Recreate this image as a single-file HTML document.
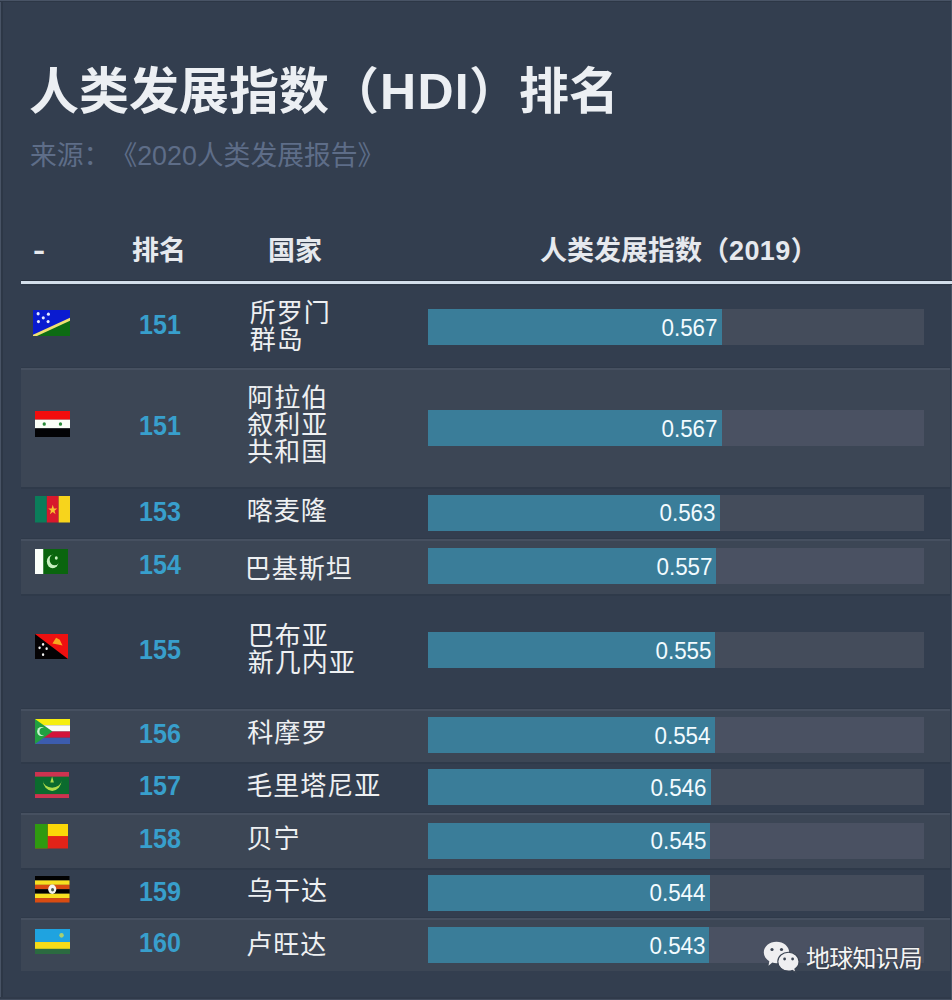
<!DOCTYPE html>
<html lang="zh-CN">
<head>
<meta charset="utf-8">
<title>人类发展指数（HDI）排名</title>
<style>
html,body{margin:0;padding:0;}
body{width:952px;height:1000px;overflow:hidden;background:#333e4f;position:relative;
  font-family:"Liberation Sans","Noto Sans CJK SC",sans-serif;}
.edge-l{position:absolute;left:0;top:0;width:1px;height:1000px;background:#485365;}
.edge-l2{position:absolute;left:1px;top:0;width:2px;height:1000px;background:#2d3746;}
.edge-t{position:absolute;left:0;top:0;width:952px;height:1px;background:#485365;}
.edge-t2{position:absolute;left:0;top:1px;width:952px;height:1px;background:#2d3746;}
.edge-b{position:absolute;left:0;top:999px;width:952px;height:1px;background:#434d5e;}
.edge-b2{position:absolute;left:0;top:997px;width:952px;height:2px;background:#303a4a;}
.edge-r{position:absolute;right:0;top:0;width:1px;height:1000px;background:#485365;}
h1{position:absolute;left:29px;top:56px;margin:0;font-weight:bold;font-size:50px;line-height:72px;
  color:#eceff3;white-space:nowrap;font-family:"Liberation Sans","Noto Sans CJK SC",sans-serif;}
.sub{position:absolute;left:30px;top:138px;font-size:26.8px;line-height:37px;color:#5e6d88;white-space:nowrap;
  font-family:"Liberation Sans","Noto Sans CJK SC",sans-serif;text-spacing-trim:space-all;}
.hd{position:absolute;top:233px;font-weight:bold;font-size:27px;line-height:37px;color:#e6e9ee;white-space:nowrap;
  font-family:"Liberation Sans","Noto Sans CJK SC",sans-serif;text-spacing-trim:space-all;}
.hline{position:absolute;left:21px;top:281px;width:931px;height:3px;background:#d3deea;box-shadow:0 -1px 0 #29323f, 0 1px 0 #29323f;}
.row{position:absolute;left:21px;width:929px;}
.row{box-shadow:inset 0 2px 0 #2f3a4a, inset 0 -1px 0 #2f3a4a;}
.row.lt{background:#3c4655;box-shadow:inset 0 2px 0 #465060;}
.flag{position:absolute;left:13px;width:36px;height:26px;}
.rank{position:absolute;left:118px;width:44px;font-weight:bold;font-size:27px;line-height:30px;color:#389fcc;
  font-family:"Liberation Sans",sans-serif;transform:scaleX(0.93);transform-origin:0 0;}
.name{position:absolute;left:229px;font-size:26px;letter-spacing:1px;line-height:27.2px;color:#eef0f2;
  font-family:"Liberation Sans","Noto Sans CJK SC",sans-serif;}
.track{position:absolute;left:406.5px;width:496px;height:36px;background:#444c5b;}
.row.lt .track{background:#4a5162;}
.fill{position:absolute;left:0;top:0;height:36px;background:#3a7d99;}
.val{position:absolute;right:4px;top:0.5px;font-size:23px;transform:scaleX(0.975);transform-origin:100% 50%;line-height:36px;color:#f2fbff;
  font-family:"Liberation Sans",sans-serif;}
.wm{position:absolute;left:763px;top:938px;height:36px;}
.wm span{position:absolute;left:43px;top:2.5px;font-size:24px;letter-spacing:-0.8px;line-height:36px;color:#f4f4f4;white-space:nowrap;
  text-shadow:0 0 2px rgba(0,0,0,.35);font-family:"Liberation Sans","Noto Sans CJK SC",sans-serif;}
</style>
</head>
<body>
<div class="edge-l"></div><div class="edge-l2"></div><div class="edge-t"></div><div class="edge-t2"></div><div class="edge-b2"></div><div class="edge-b"></div><div class="edge-r"></div>

<h1>人类发展指数（<span style="letter-spacing:1.3px;margin-left:1px">HDI</span><span style="margin-left:-1px">）</span>排名</h1>
<div class="sub">来源：《2020人类发展报告》</div>

<div class="hd" style="left:33px;top:232.5px;transform:scaleX(1.35);transform-origin:0 50%;">-</div>
<div class="hd" style="left:132px;">排名</div>
<div class="hd" style="left:268px;">国家</div>
<div class="hd" style="left:540px;">人类发展指数（<span style="letter-spacing:0.4px">2019</span>）</div>
<div class="hline"></div>

<!-- ROWS -->
<div class="row" style="top:284px;height:84px"><svg class="flag" style="left:12px;top:25.5px;width:37px;height:26.5px" viewBox="0 0 36 24" preserveAspectRatio="none"><rect width="36" height="24" fill="#0a1bd0"/><polygon points="0,24 36,8.6 36,24" fill="#0d6b13"/><polygon points="0,24 0,22.4 36,7 36,9.8 2.8,24" fill="#f0e070"/><circle cx="5" cy="3.4" r="1.5" fill="#e8ecff"/><circle cx="15" cy="3.8" r="1.5" fill="#e8ecff"/><circle cx="10" cy="7.1" r="1.5" fill="#e8ecff"/><circle cx="5.3" cy="10.5" r="1.5" fill="#e8ecff"/><circle cx="14.7" cy="10.5" r="1.5" fill="#e8ecff"/></svg><div class="rank" style="top:25.5px">151</div><div class="name" style="left:228.8px;top:15.8px">所罗门<br>群岛</div><div class="track" style="top:25.3px"><div class="fill" style="width:294.0px"><span class="val">0.567</span></div></div></div>
<div class="row lt" style="top:368px;height:119px"><svg class="flag" style="left:14px;top:43px;width:35px;height:26px" viewBox="0 0 36 24" preserveAspectRatio="none"><rect width="36" height="8" fill="#f20d0d"/><rect y="8" width="36" height="8" fill="#fbfff8"/><rect y="16" width="36" height="8" fill="#030305"/><circle cx="9.5" cy="12" r="1.7" fill="#2a8a3a"/><circle cx="26.2" cy="12" r="1.7" fill="#2a8a3a"/></svg><div class="rank" style="top:43.0px">151</div><div class="name" style="left:226.2px;top:16.6px">阿拉伯<br>叙利亚<br>共和国</div><div class="track" style="top:42.0px"><div class="fill" style="width:294.0px"><span class="val">0.567</span></div></div></div>
<div class="row" style="top:487px;height:52px"><svg class="flag" style="left:13.5px;top:9px;width:35.5px;height:26.5px" viewBox="0 0 36 24" preserveAspectRatio="none"><rect width="12" height="24" fill="#0b7d5a"/><rect x="12" width="12" height="24" fill="#d8182c"/><rect x="24" width="12" height="24" fill="#f7d41c"/><polygon points="18,8 19.2,11.3 22.6,11.3 19.8,13.3 20.9,16.6 18,14.6 15.1,16.6 16.2,13.3 13.4,11.3 16.8,11.3" fill="#f7c030"/></svg><div class="rank" style="top:9.5px">153</div><div class="name" style="left:225.8px;top:11.1px">喀麦隆</div><div class="track" style="top:7.7px"><div class="fill" style="width:292.0px"><span class="val">0.563</span></div></div></div>
<div class="row lt" style="top:539px;height:55px"><svg class="flag" style="left:14px;top:10px;width:33px;height:25px" viewBox="0 0 36 24" preserveAspectRatio="none"><rect width="36" height="24" fill="#0a650e"/><rect width="9" height="24" fill="#fbfffa"/><circle cx="19.3" cy="12" r="6.4" fill="#c8f0c0"/><circle cx="21.5" cy="10.2" r="5.5" fill="#0a650e"/><circle cx="23.2" cy="8.6" r="1.6" fill="#c8f0c0"/></svg><div class="rank" style="top:11.0px">154</div><div class="name" style="left:223.8px;top:16.6px">巴基斯坦</div><div class="track" style="top:9.2px"><div class="fill" style="width:288.9px"><span class="val">0.557</span></div></div></div>
<div class="row" style="top:594px;height:115px"><svg class="flag" style="left:14px;top:40px;width:33px;height:25px" viewBox="0 0 36 24" preserveAspectRatio="none"><rect width="36" height="24" fill="#ee1010"/><polygon points="0,0 36,24 0,24" fill="#050305"/><polygon points="19,9 23,3.5 27,5.5 30,11 25,10" fill="#f8a820"/><circle cx="5" cy="13.3" r="1.3" fill="#f0f0f0"/><circle cx="8.8" cy="10" r="1.3" fill="#f0f0f0"/><circle cx="12.7" cy="14.1" r="1.3" fill="#f0f0f0"/><circle cx="8.8" cy="19.8" r="1.3" fill="#f0f0f0"/></svg><div class="rank" style="top:41.0px">155</div><div class="name" style="left:226.7px;top:29.0px">巴布亚<br>新几内亚</div><div class="track" style="top:38.3px"><div class="fill" style="width:287.8px"><span class="val">0.555</span></div></div></div>
<div class="row lt" style="top:709px;height:53px"><svg class="flag" style="left:14px;top:9.5px;width:35px;height:25px" viewBox="0 0 36 24" preserveAspectRatio="none"><rect width="36" height="6" fill="#f6ee10"/><rect y="6" width="36" height="6" fill="#fbfbf8"/><rect y="12" width="36" height="6" fill="#d3143a"/><rect y="18" width="36" height="6" fill="#3c5cae"/><polygon points="0,0 18,12 0,24" fill="#21a040"/><circle cx="6.5" cy="12" r="4.3" fill="#c8f0d0"/><circle cx="8.2" cy="12" r="3.6" fill="#21a040"/></svg><div class="rank" style="top:10.0px">156</div><div class="name" style="left:226.2px;top:10.9px">科摩罗</div><div class="track" style="top:8.0px"><div class="fill" style="width:287.3px"><span class="val">0.554</span></div></div></div>
<div class="row" style="top:762px;height:51px"><svg class="flag" style="left:14px;top:9.5px;width:34px;height:26.5px" viewBox="0 0 36 24" preserveAspectRatio="none"><rect width="36" height="24" fill="#0b6b2e"/><rect width="36" height="4.2" fill="#cd3350"/><rect y="20" width="36" height="4" fill="#cd3350"/><path d="M8.3,7.8 A9.9,9.3 0 0 0 28.1,7.8 A9.9,6.4 0 0 1 8.3,7.8 Z" fill="#b0dc4a"/><polygon points="18.1,4 20,9.6 16.2,9.6" fill="#b0dc4a"/></svg><div class="rank" style="top:9.0px">157</div><div class="name" style="left:225.3px;top:11.0px">毛里塔尼亚</div><div class="track" style="top:7.3px"><div class="fill" style="width:283.2px"><span class="val">0.546</span></div></div></div>
<div class="row lt" style="top:813px;height:55px"><svg class="flag" style="left:14px;top:11px;width:33px;height:24.5px" viewBox="0 0 36 24" preserveAspectRatio="none"><rect width="36" height="24" fill="#e22318"/><rect x="13.9" width="23" height="11.8" fill="#fbd808"/><rect width="13.9" height="24" fill="#2f9a10"/></svg><div class="rank" style="top:11.0px">158</div><div class="name" style="left:225.5px;top:13.3px">贝宁</div><div class="track" style="top:9.8px"><div class="fill" style="width:282.6px"><span class="val">0.545</span></div></div></div>
<div class="row" style="top:868px;height:50px"><svg class="flag" style="left:14px;top:8px;width:34.5px;height:26.5px" viewBox="0 0 36 24" preserveAspectRatio="none"><rect y="0" width="36" height="4" fill="#020202"/><rect y="4" width="36" height="4" fill="#f8e020"/><rect y="8" width="36" height="4" fill="#d94c12"/><rect y="12" width="36" height="4" fill="#020202"/><rect y="16" width="36" height="4" fill="#f8e020"/><rect y="20" width="36" height="4" fill="#d94c12"/><ellipse cx="18" cy="12" rx="4.2" ry="4.2" fill="#f4f4f0"/><circle cx="18.3" cy="12.4" r="1.6" fill="#4a5a50"/></svg><div class="rank" style="top:8.5px">159</div><div class="name" style="left:226.1px;top:10.2px">乌干达</div><div class="track" style="top:6.9px"><div class="fill" style="width:282.1px"><span class="val">0.544</span></div></div></div>
<div class="row lt" style="top:918px;height:53px"><svg class="flag" style="left:14px;top:10.5px;width:35px;height:25px" viewBox="0 0 36 24" preserveAspectRatio="none"><rect width="36" height="24" fill="#2b6a40"/><rect width="36" height="12.5" fill="#1fa3e0"/><rect y="12.5" width="36" height="6.5" fill="#f5dc18"/><circle cx="27.3" cy="6.1" r="2.3" fill="#a8d070"/></svg><div class="rank" style="top:10.0px">160</div><div class="name" style="left:225.3px;top:14.2px">卢旺达</div><div class="track" style="top:9.0px"><div class="fill" style="width:281.6px"><span class="val">0.543</span></div></div></div>
<!-- /ROWS -->
<div class="wm"><svg width="40" height="36" viewBox="0 0 40 36" style="position:absolute;left:0;top:0">
<path d="M13.5,3.8 C20.5,3.8 26.2,8.5 26.2,14.5 C26.2,20.5 20.5,25.2 13.5,25.2 C12,25.2 10.6,25 9.3,24.6 L5.5,27.8 L6.3,23.2 C3,21.3 0.8,18.1 0.8,14.5 C0.8,8.5 6.5,3.8 13.5,3.8 Z" fill="#efeff1"/>
<circle cx="9" cy="11.5" r="1.6" fill="#3a4352"/><circle cx="18.5" cy="11.5" r="1.6" fill="#3a4352"/>
<path d="M25.4,14.3 C31.3,14.3 36,18.3 36,23.6 C36,26.6 34.4,29.3 31.9,31 L33,34.5 L29.2,32.4 C28,32.8 26.7,33 25.4,33 C19.5,33 14.8,28.9 14.8,23.6 C14.8,18.3 19.5,14.3 25.4,14.3 Z" fill="#efeff1" stroke="#3a4352" stroke-width="1.1"/>
<circle cx="21.6" cy="21" r="1.4" fill="#3a4352"/><circle cx="29.6" cy="21" r="1.4" fill="#3a4352"/>
</svg><span>地球知识局</span></div>


</body>
</html>
